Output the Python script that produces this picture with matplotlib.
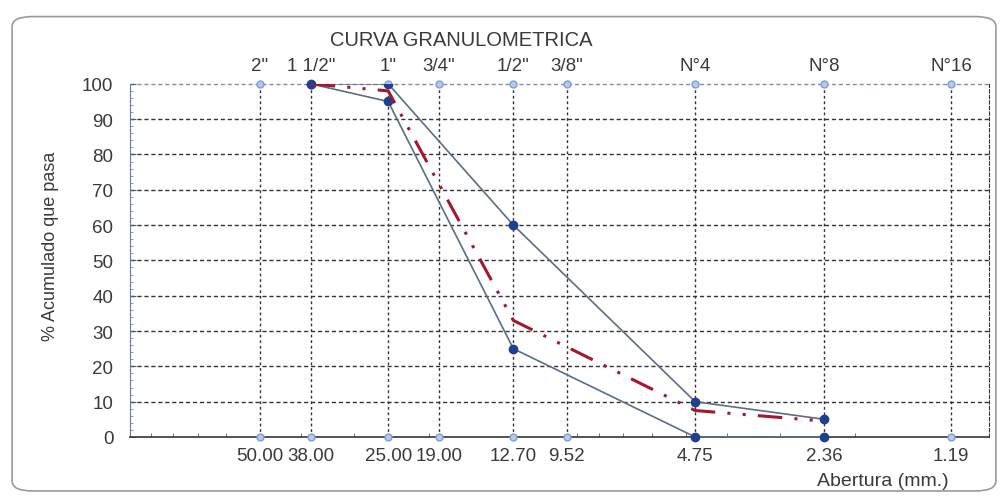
import matplotlib
matplotlib.use("Agg")
import matplotlib.pyplot as plt
from matplotlib.patches import FancyBboxPatch
from matplotlib.ticker import FixedLocator, NullFormatter

plt.rcParams['font.family'] = ['Liberation Sans', 'DejaVu Sans']

sieve_mm = [50.00, 38.00, 25.00, 19.00, 12.70, 9.52, 4.75, 2.36, 1.19]
sieve_labels_mm = ["50.00", "38.00", "25.00", "19.00", "12.70", "9.52", "4.75", "2.36", "1.19"]
sieve_names = ['2"', '1 1/2"', '1"', '3/4"', '1/2"', '3/8"', 'N°4', 'N°8', 'N°16']

lim_x = [38.00, 25.00, 12.70, 4.75, 2.36]
upper_limit = [100, 100, 60, 10, 5]
lower_limit = [100, 95, 25, 0, 0]
sample_pass = [100, 98, 33, 7.5, 4.5]

line_col = "#5b6e85"
mark_col = "#1f3f8f"
light_mark = "#7f9fcf"
red_col = "#a3182c"
text_col = "#3a3a3a"

fig = plt.figure(figsize=(10.08, 5.02), dpi=100)
box = FancyBboxPatch((0.012, 0.02), 0.976, 0.945, boxstyle="round,pad=0,rounding_size=0.02",
                     transform=fig.transFigure, facecolor="white", edgecolor="#9a9a9a", lw=1.2, zorder=-10)
fig.patches.append(box)
ax = fig.add_axes([0.129, 0.1275, 0.852, 0.7035])
ax.patch.set_alpha(0)
ax.set_xscale("log")
ax.set_xlim(101, 0.97)
ax.set_ylim(0, 100)

# grid lines
for v in range(10, 100, 10):
    ax.axhline(v, color="#333333", lw=1.0, ls=(0, (3, 2)), zorder=1)
ax.axhline(100, color="#7f8fb0", lw=1.0, ls=(0, (3, 2)), zorder=1, clip_on=False)
for s in sieve_mm:
    ax.axvline(s, color="#333333", lw=1.0, ls=(0, (2, 2)), zorder=1)

# reference markers at top and bottom
ax.plot(sieve_mm, [100] * len(sieve_mm), ls="none", marker="o", ms=5, mfc="#b8c8e8", mec=light_mark, zorder=3, clip_on=False)
ax.plot(sieve_mm, [0] * len(sieve_mm), ls="none", marker="o", ms=5, mfc="#b8c8e8", mec=light_mark, zorder=3, clip_on=False)

ax.plot(lim_x, upper_limit, color=line_col, lw=1.2, marker="o", ms=6, mfc=mark_col, mec=mark_col, zorder=4)
ax.plot(lim_x, lower_limit, color=line_col, lw=1.2, marker="o", ms=6, mfc=mark_col, mec=mark_col, zorder=4, clip_on=False)
ax.plot(lim_x, sample_pass, color=red_col, lw=2.2, ls=(0, (8, 4, 1, 4, 1, 4)), zorder=5)

ax.xaxis.set_major_locator(FixedLocator(sieve_mm))
ax.set_xticklabels(sieve_labels_mm, fontsize=13.5, color=text_col)
ax.xaxis.set_minor_formatter(NullFormatter())
ax.tick_params(axis="x", which="major", length=0, pad=7)
ax.tick_params(axis="x", which="minor", length=3, direction="in", color="#555555")
ax.set_yticks(range(0, 101, 10))
ax.set_yticklabels([str(v) for v in range(0, 101, 10)], fontsize=13.5, color=text_col)
ax.set_yticks(range(0, 101, 2), minor=True)
ax.tick_params(axis="y", which="major", length=4, direction="in", color="#555577", pad=12)
ax.tick_params(axis="y", which="minor", length=2, direction="in", color="#7788aa")

secax = ax.secondary_xaxis("top")
secax.xaxis.set_major_locator(FixedLocator(sieve_mm))
secax.set_xticklabels(sieve_names, fontsize=13.5, color=text_col)
secax.tick_params(axis="x", length=0, pad=7)
secax.xaxis.set_minor_locator(FixedLocator([]))
secax.spines["top"].set_visible(False)

ax.spines["top"].set_visible(False)
ax.spines["left"].set_color("#6677aa")
ax.spines["left"].set_linestyle((0, (2, 1)))
ax.spines["right"].set_color("#333333")
ax.spines["right"].set_linestyle((0, (3, 2)))
ax.spines["bottom"].set_color("#444444")
ax.spines["bottom"].set_linewidth(1.3)

fig.text(0.458, 0.92, "CURVA GRANULOMETRICA", ha="center", va="center", fontsize=14.5, color=text_col)
fig.text(0.05, 0.51, "% Acumulado que pasa", rotation=90, ha="center", va="center", fontsize=13, color=text_col)
fig.text(0.876, 0.04, "Abertura (mm.)", ha="center", va="center", fontsize=14, color=text_col)

fig.savefig("out.png", dpi=100)
